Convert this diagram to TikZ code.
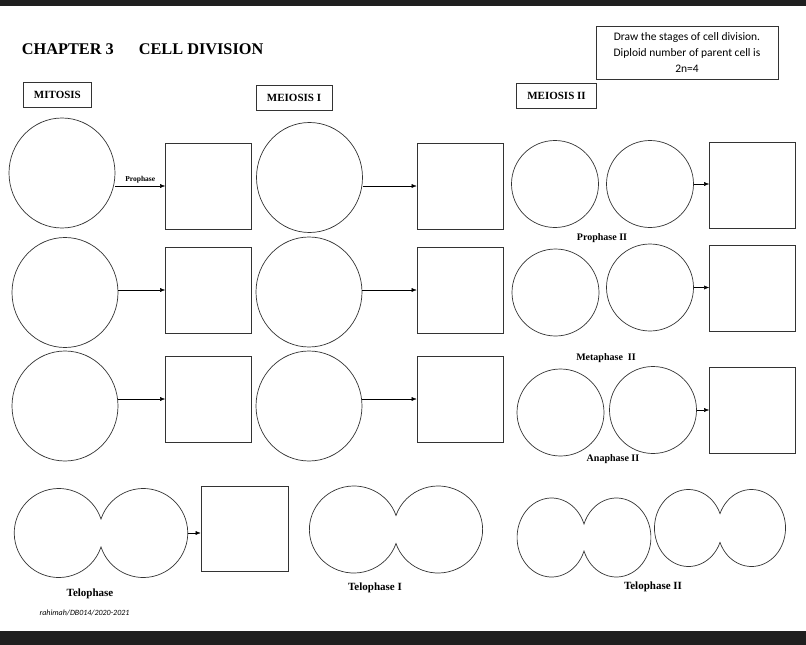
\documentclass[tikz,border=0pt]{standalone}
\usepackage{fontspec}
\setmainfont{Liberation Serif}
\newfontfamily\calibri{Carlito}
\usetikzlibrary{shapes.geometric,arrows.meta}

\tikzset{
  outline/.style={draw=black!80, line width=0.7pt},
  bigcell/.style={outline, ellipse, minimum width=106pt, minimum height=110pt, inner sep=0pt},
  smallcell/.style={outline, ellipse, minimum width=87pt, minimum height=87pt, inner sep=0pt},
  drawbox/.style={outline, minimum width=86pt, minimum height=86pt, inner sep=0pt},
  heading/.style={outline, font=\bfseries\fontsize{11}{13}\selectfont, minimum height=25pt, inner xsep=11pt},
  phase/.style={font=\bfseries\fontsize{10}{12}\selectfont},
  telo/.style={font=\bfseries\fontsize{11}{13}\selectfont},
  pics/twocell/.style n args={3}{code={
    \draw[outline] (0pt,{#2*sin(#3)*1pt})
      arc[start angle=#3, end angle=360-#3, x radius=#1*1pt, y radius=#2*1pt]
      arc[start angle=180+#3, end angle=540-#3, x radius=#1*1pt, y radius=#2*1pt] -- cycle;
    \coordinate (-east) at ({#1*(1+cos(#3))*1pt},0pt);
  }},
}

\begin{document}
\begin{tikzpicture}[x=1pt, y=-1pt, >={Latex[length=5pt,width=4pt]}]
    \useasboundingbox (0,0) rectangle (806,645);
    \fill[black!88] (0,0) rectangle (806,6);
    \fill[black!88] (0,631) rectangle (806,645);

    % Title and note
    \node[anchor=base west, inner sep=0pt, font=\bfseries\fontsize{16.3}{19}\selectfont] (title) at (21.7,54.3) {CHAPTER 3\hspace{25pt}CELL DIVISION};
    \node[outline, align=center, font=\calibri\fontsize{11.5}{16}\selectfont, minimum width=182pt, minimum height=53pt] (note) at (687,52.5) {Draw the stages of cell division.\\Diploid number of parent cell is\\2n=4};

    % Mitosis
    \begin{scope}
        \node[heading] (mit) at (57.4,94.5) {MITOSIS};
        \node[bigcell] (m1) at (62,173) {};
        \node[bigcell] (m2) at (65,292.5) {};
        \node[bigcell] (m3) at (65,406) {};
        \node[drawbox] (ms1) at (208.5,186) {};
        \node[drawbox] (ms2) at (208.5,290) {};
        \node[drawbox] (ms3) at (208.5,399) {};
        \draw[->] (ms1.west -| m1.east) -- (ms1.west)
            node[midway, above=-1pt, font=\bfseries\fontsize{7.5}{9}\selectfont] {Prophase};
        \draw[->] (ms2.west -| m2.east) -- (ms2.west);
        \draw[->] (ms3.west -| m3.east) -- (ms3.west);
    \end{scope}

    % Meiosis I
    \begin{scope}
        \node[heading] (mei) at (294,97.5) {MEIOSIS I};
        \node[bigcell] (a1) at (309.5,177.5) {};
        \node[bigcell] (a2) at (309,292) {};
        \node[bigcell] (a3) at (309,406) {};
        \node[drawbox] (as1) at (460,186) {};
        \node[drawbox] (as2) at (460,290) {};
        \node[drawbox] (as3) at (460,399) {};
        \draw[->] (as1.west -| a1.east) -- (as1.west);
        \draw[->] (as2.west -| a2.east) -- (as2.west);
        \draw[->] (as3.west -| a3.east) -- (as3.west);
    \end{scope}

    % Meiosis II
    \begin{scope}
        \node[heading] (meii) at (556.5,96) {MEIOSIS II};
        \node[smallcell] (b1) at (555,184) {};
        \node[smallcell] (c1) at (650,184) {};
        \node[smallcell] (b2) at (555.5,292.5) {};
        \node[smallcell] (c2) at (650,287.5) {};
        \node[smallcell] (b3) at (560.5,412.5) {};
        \node[smallcell] (c3) at (653,410) {};
        \node[drawbox] (bs1) at (752.5,185) {};
        \node[drawbox] (bs2) at (752.5,288) {};
        \node[drawbox] (bs3) at (752.5,410) {};
        \draw[->] (c1.east) -- (bs1.west |- c1.east);
        \draw[->] (c2.east) -- (bs2.west |- c2.east);
        \draw[->] (c3.east) -- (bs3.west |- c3.east);
        \node[phase] (pro2) at (602,238) {Prophase II};
        \node[phase] (meta2) at (606,358) {Metaphase~ II};
        \node[phase] (ana2) at (613,459) {Anaphase II};
    \end{scope}

    % Telophase row
    \pic (tm) at (101,533) {twocell={44.5}{44.5}{18.3}};
    \node[outline, minimum width=87pt, minimum height=85pt] (ts) at (244.5,528.5) {};
    \draw[->] (tm-east) -- (tm-east -| ts.west);
    \pic (ti) at (396,529.5) {twocell={44.5}{43.5}{18.8}};
    \pic (tiia) at (584,537.5) {twocell={34.5}{39.5}{20}};
    \pic (tiib) at (720,528) {twocell={34}{38.5}{22}};
    \node[telo] (tel) at (90,594) {Telophase};
    \node[telo] (teli) at (375,588) {Telophase I};
    \node[telo] (telii) at (653,587) {Telophase II};
    \node[font=\calibri\itshape\fontsize{8}{10}\selectfont] (credit) at (84.5,613) {rahimah/DB014/2020-2021};
\end{tikzpicture}
\end{document}
